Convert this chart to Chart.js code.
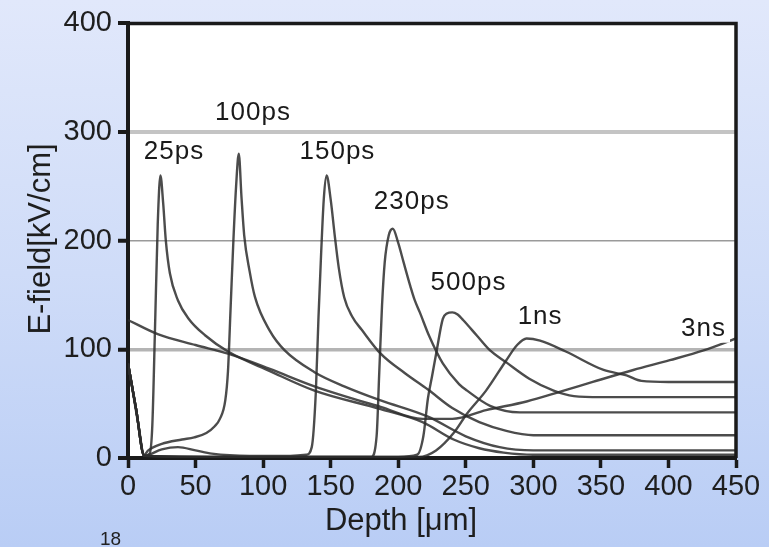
<!DOCTYPE html>
<html>
<head>
<meta charset="utf-8">
<script src="https://cdn.jsdelivr.net/npm/chart.js@4/dist/chart.umd.min.js"></script>
<style>
  html, body { margin: 0; padding: 0; }
  body {
    width: 769px; height: 547px; overflow: hidden; position: relative;
    background: linear-gradient(to bottom, #e1e8fb 0%, #cfdcf8 50%, #b9cdf5 100%);
    font-family: "Liberation Sans", Arial, sans-serif;
  }
  #c { position: absolute; left: 0; top: 0; }
  .title { position: absolute; color: #1e1e1e; font-size: 31px; white-space: nowrap; text-align: center; }
  #xt { left: 251px; width: 300px; top: 502px; }
  #yt { left: -110px; width: 300px; top: 221px; transform: rotate(-90deg); }
  #pg { position: absolute; left: 100px; top: 528px; font-size: 19px; color: #222; }
</style>
</head>
<body>
<canvas id="c" width="769" height="547"></canvas>
<div class="title" id="xt">Depth [μm]</div>
<div class="title" id="yt">E-field[kV/cm]</div>
<div id="pg">18</div>
<script>
// ---- data (depth in µm, field in kV/cm) ----
const xTicks = [0, 50, 100, 150, 200, 250, 300, 350, 400, 450];
const yTicks = [0, 100, 200, 300, 400];

const depth25ps = [0, 4, 8, 12, 16, 18, 20, 22, 24, 26, 28, 31, 37, 45, 57, 74, 105, 138, 187, 218, 241, 260, 278, 300, 450];
const field25ps = [87, 58, 28, 2, 4, 30, 120, 215, 260, 235, 200, 170, 145, 128, 113, 98, 80, 62, 45, 33, 17, 9, 5, 3, 3];

const depth100ps = [0, 6, 12, 15, 25, 40, 49, 58, 64, 68, 72, 74, 76, 78, 80, 82, 84, 86, 90, 94, 105, 116, 138, 160, 187, 222, 250, 275, 300, 450];
const field100ps = [87, 45, 3, 7, 13, 17, 19, 23, 29, 36, 53, 80, 140, 200, 250, 280, 240, 205, 172, 148, 117, 99, 79, 66, 53, 38, 20, 10, 7, 7];

const depth150ps = [0, 6, 12, 25, 37, 50, 62, 90, 120, 132, 136, 139, 141, 143, 145, 147, 150, 153, 156, 160, 166, 173, 187, 205, 222, 240, 260, 280, 300, 450];
const field150ps = [87, 45, 2, 8, 10, 7, 4, 2, 2, 3, 10, 60, 130, 190, 240, 260, 238, 205, 175, 148, 130, 118, 96, 78, 63, 46, 33, 25, 21, 21];

const depth230ps = [0, 6, 12, 40, 100, 180, 184, 186, 188, 190, 193, 196, 200, 204, 209, 212, 216, 223, 233, 245, 251, 268, 290, 450];
const field230ps = [87, 45, 2, 1, 1, 1, 20, 80, 140, 180, 205, 211, 198, 180, 158, 146, 134, 112, 87, 68, 62, 48, 42, 42];

const depth500ps = [0, 6, 12, 100, 200, 214, 218.6, 222, 225, 228.5, 233, 236, 240, 244, 248, 258, 268, 280, 297, 315, 330, 350, 450];
const field500ps = [87, 45, 2, 1, 1, 3, 20, 55, 75, 99, 128, 133, 134, 132, 127, 113, 99, 88, 73, 62, 57, 56, 56];

const depth1ns = [0, 6, 12, 100, 215, 228, 241, 251, 265, 280, 288, 295, 305, 324, 352, 369, 380, 400, 450];
const field1ns = [87, 45, 2, 1, 1, 7, 23, 41, 62, 90, 104, 110, 108, 98, 81, 76, 71, 70, 70];

const depth3ns = [0, 22, 50, 74, 105, 138, 187, 218, 240, 265, 295, 320, 344, 374, 401, 426, 450];
const field3ns = [127, 114, 104, 96, 82, 66, 47, 36, 36, 44, 52, 61, 70, 81, 90, 99, 110];

const curveNames  = ['25ps', '100ps', '150ps', '230ps', '500ps', '1ns', '3ns'];
const labelDepth  = [34, 92.5, 155, 210, 252, 305, 426];
const labelField  = [282, 318, 282, 236, 161, 130, 119];

// ---- build datasets ----
const seriesX = [depth25ps, depth100ps, depth150ps, depth230ps, depth500ps, depth1ns, depth3ns];
const seriesY = [field25ps, field100ps, field150ps, field230ps, field500ps, field1ns, field3ns];
const datasets = curveNames.map((name, k) => ({
  label: name,
  data: seriesX[k].map((x, i) => ({ x: x, y: seriesY[k][i] })),
  showLine: true,
  pointRadius: 0,
  borderColor: 'rgba(45,45,45,0.85)',
  borderWidth: 2.4,
  cubicInterpolationMode: 'monotone',
  fill: false
}));

const plotBg = {
  id: 'plotBg',
  beforeDraw(chart) {
    const a = chart.chartArea, ctx = chart.ctx;
    ctx.save(); ctx.fillStyle = '#ffffff';
    ctx.fillRect(a.left, a.top, a.right - a.left, a.bottom - a.top);
    ctx.restore();
  },
  afterDraw(chart) {
    const a = chart.chartArea, ctx = chart.ctx;
    ctx.save();
    ctx.strokeStyle = '#1a1a1a'; ctx.lineWidth = 3.5;
    ctx.beginPath();
    ctx.moveTo(a.left, a.top); ctx.lineTo(a.right, a.top); ctx.lineTo(a.right, a.bottom);
    ctx.stroke();
    // curve labels
    const xs = chart.scales.x, ys = chart.scales.y;
    ctx.font = '26px "Liberation Sans", Arial, sans-serif';
    ctx.textAlign = 'center'; ctx.textBaseline = 'middle';
    try { ctx.letterSpacing = '1px'; } catch (e) {}
    curveNames.forEach((t, i) => {
      const px = xs.getPixelForValue(labelDepth[i]);
      const py = ys.getPixelForValue(labelField[i]);
      const w = ctx.measureText(t).width;
      ctx.fillStyle = '#ffffff';
      ctx.fillRect(px - w / 2 - 4, py - 14, w + 8, 28);
      ctx.fillStyle = '#1a1a1a';
      ctx.fillText(t, px, py);
    });
    ctx.restore();
  }
};

Chart.defaults.font.family = '"Liberation Sans", Arial, sans-serif';

new Chart(document.getElementById('c'), {
  type: 'scatter',
  data: { datasets: datasets },
  options: {
    responsive: false,
    animation: false,
    layout: { padding: { left: 0, right: 33, top: 22, bottom: 0 } },
    plugins: { legend: { display: false }, tooltip: { enabled: false } },
    scales: {
      x: {
        type: 'linear', min: 0, max: 450,
        afterFit: s => { s.height = 89; },
        afterBuildTicks: s => { s.ticks = xTicks.map(v => ({ value: v })); },
        ticks: { color: '#1e1e1e', font: { size: 29 }, padding: 2, maxRotation: 0 },
        grid: { drawOnChartArea: false, drawTicks: true, tickLength: 10, tickColor: '#1a1a1a', tickWidth: 3.5 },
        border: { color: '#1a1a1a', width: 4 }
      },
      y: {
        type: 'linear', min: 0, max: 400,
        afterFit: s => { s.width = 128; },
        afterBuildTicks: s => { s.ticks = yTicks.map(v => ({ value: v })); },
        ticks: { color: '#1e1e1e', font: { size: 29 }, padding: 6 },
        grid: {
          drawOnChartArea: true, drawTicks: true, tickLength: 10, tickColor: '#1a1a1a', tickWidth: 4,
          color: c => c.tick && c.tick.value === 100 ? '#b4b4b4' : (c.tick && c.tick.value === 200 ? '#9a9a9a' : (c.tick && c.tick.value === 300 ? '#c4c4c4' : 'rgba(0,0,0,0)')),
          lineWidth: c => c.tick && c.tick.value === 100 ? 3.5 : (c.tick && c.tick.value === 200 ? 1.5 : (c.tick && c.tick.value === 300 ? 4 : 0))
        },
        border: { color: '#1a1a1a', width: 4 }
      }
    }
  },
  plugins: [plotBg]
});
</script>
</body>
</html>
